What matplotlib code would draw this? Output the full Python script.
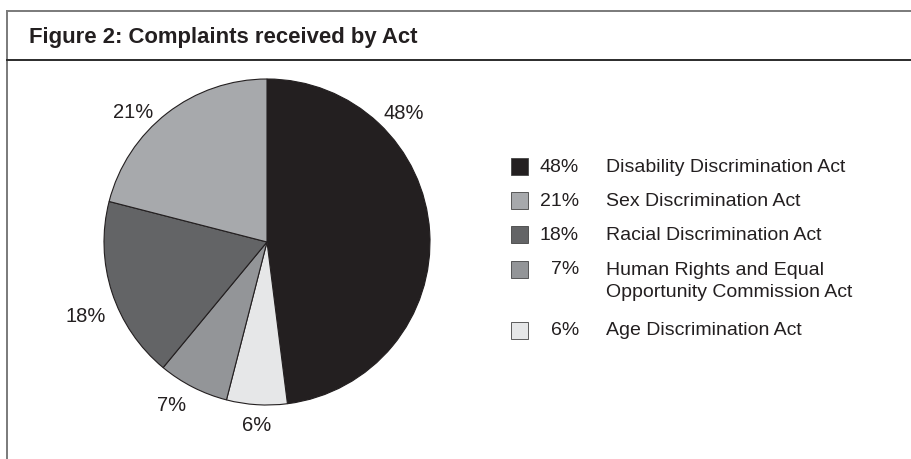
import matplotlib
matplotlib.use("Agg")
import matplotlib.pyplot as plt
from matplotlib.lines import Line2D
from matplotlib.patches import Rectangle
import numpy as np

# data, in clockwise order from 12 o'clock
acts = [
    "Disability Discrimination Act",
    "Age Discrimination Act",
    "Human Rights and Equal\nOpportunity Commission Act",
    "Racial Discrimination Act",
    "Sex Discrimination Act",
]
shares = [48, 6, 7, 18, 21]
colours = ["#231f20", "#e6e7e8", "#939598", "#636466", "#a7a9ac"]

# legend order as printed
legend_order = [0, 4, 3, 2, 1]

W, H = 911, 460
FONT = ["Liberation Sans", "DejaVu Sans"]
INK = "#231f20"

fig = plt.figure(figsize=(W / 100, H / 100), dpi=100)
fig.patch.set_facecolor("white")


def px(x, y):
    """pixel (from top-left) -> figure fraction"""
    return x / W, 1 - y / H


# frame round the figure
fig.add_artist(Line2D([7 / W, 1], [1 - 12 / H] * 2, color="#7a7a7a", lw=1.4))
fig.add_artist(Line2D([7 / W] * 2, [0, 1 - 12 / H], color="#7a7a7a", lw=1.4))
fig.add_artist(Line2D([7 / W, 1], [1 - 61 / H] * 2, color="#2b2b2b", lw=1.4))

fig.text(*px(29, 38), "Figure 2: Complaints received by Act", family=FONT,
         weight="bold", fontsize=15.9, color=INK, va="center", ha="left")

# pie
cx, cy, r = 267, 243, 163
ax = fig.add_axes([(cx - r) / W, 1 - (cy + r) / H, 2 * r / W, 2 * r / H])
wedges, _ = ax.pie(shares, colors=colours, startangle=90, counterclock=False,
                   wedgeprops=dict(edgecolor=INK, linewidth=0.8))
ax.set_xlim(-1, 1)
ax.set_ylim(-1, 1)
ax.set_aspect("equal")
ax.axis("off")

# label nudges (degrees) and radii, per wedge
nudge = [40, 0.4, -3.6, 4, 8]
lab_r = [1.155, 1.12, 1.155, 1.2, 1.145]
for w, val, dn, rr in zip(wedges, shares, nudge, lab_r):
    mid = np.deg2rad((w.theta1 + w.theta2) / 2 + dn)
    ax.text(rr * np.cos(mid), rr * np.sin(mid), f"{val}%", family=FONT,
            fontsize=14.5, color=INK, ha="center", va="center", clip_on=False)

# legend drawn by hand
row_y = [167, 201, 235, 270, 331]
for i, y in zip(legend_order, row_y):
    fig.add_artist(Rectangle(px(511, y + 8.5), 17 / W, 17 / H, transform=fig.transFigure,
                             facecolor=colours[i], edgecolor="#444444", linewidth=0.6))
    fig.text(*px(579, y), f"{shares[i]}%", family=FONT, fontsize=14,
             color=INK, ha="right", va="center")
    two = "\n" in acts[i]
    fig.text(*px(606, y + 11.5 if two else y), acts[i], family=FONT,
             fontsize=14, color=INK, ha="left", va="center", linespacing=1.45)

fig.savefig("out.png", dpi=100)
